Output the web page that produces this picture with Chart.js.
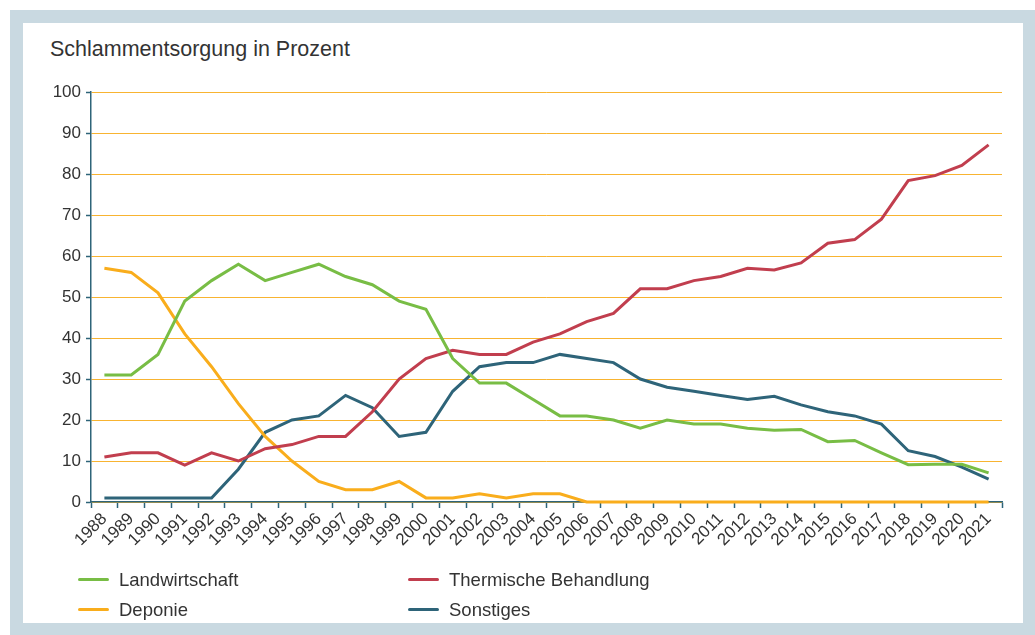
<!DOCTYPE html>
<html lang="de">
<head>
<meta charset="utf-8">
<script src="https://cdn.jsdelivr.net/npm/chart.js@4.4.1/dist/chart.umd.min.js"></script>
<style>
  body { margin: 0; width: 1035px; height: 635px; overflow: hidden; background: #fff;
         font-family: "Liberation Sans", Arial, sans-serif; color: #333; }
  #frame { position: absolute; left: 10px; top: 10px; width: 1026px; height: 626px;
           border: 13px solid #c9d9e1; box-sizing: border-box; }
  #title { position: absolute; left: 50px; top: 37px; font-size: 21.5px; color: #333; }
  #chart { position: absolute; left: 0; top: 0; }
  .leg { position: absolute; font-size: 18.5px; color: #333; line-height: 22px; }
  .leg span { display: inline-block; width: 31px; height: 3px; vertical-align: middle;
              margin-right: 10px; position: relative; top: -2px; border-radius: 2px; }
</style>
</head>
<body>
<div id="frame"></div>
<div id="title">Schlammentsorgung in Prozent</div>
<canvas id="chart" width="1035" height="635"></canvas>
<div id="legend"></div>
<script>
var years = ["1988","1989","1990","1991","1992","1993","1994","1995","1996","1997","1998","1999",
  "2000","2001","2002","2003","2004","2005","2006","2007","2008","2009","2010","2011","2012",
  "2013","2014","2015","2016","2017","2018","2019","2020","2021"];

var landwirtschaft = [31,31,36,49,54,58,54,56,58,55,53,49,47,35,29,29,25,21,21,20,18,20,19,19,18,17.5,17.7,14.7,15,12,9.1,9.2,9.2,7.1];
var thermisch = [11,12,12,9,12,10,13,14,16,16,22,30,35,37,36,36,39,41,44,46,52,52,54,55,57,56.6,58.3,63.1,64,69,78.4,79.6,82.1,87.1];
var deponie = [57,56,51,41,33,24,16,10,5,3,3,5,1,1,2,1,2,2,0,0,0,0,0,0,0,0,0,0,0,0,0,0,0,0];
var sonstiges = [1,1,1,1,1,8,17,20,21,26,23,16,17,27,33,34,34,36,35,34,30,28,27,26,25,25.8,23.7,22,21,19,12.5,11.1,8.5,5.6];

var seriesNames = ["Landwirtschaft", "Thermische Behandlung", "Deponie", "Sonstiges"];
var seriesColors = ["#78bd45", "#c13e4e", "#f9ad1c", "#2e6479"];
var seriesData = [landwirtschaft, thermisch, deponie, sonstiges];

var axisColor = "#2e6479";

var datasets = seriesNames.map(function (name, i) {
  return {
    label: name,
    data: seriesData[i],
    borderColor: seriesColors[i],
    backgroundColor: seriesColors[i],
    borderWidth: 3,
    pointRadius: 0,
    tension: 0,
    fill: false,
    clip: false
  };
});

// legend in two columns, row by row
var legend = document.getElementById("legend");
seriesNames.forEach(function (name, i) {
  var el = document.createElement("div");
  el.className = "leg";
  el.style.left = (i % 2 === 0 ? 78 : 408) + "px";
  el.style.top = (i < 2 ? 569 : 599) + "px";
  el.innerHTML = '<span style="background:' + seriesColors[i] + '"></span>' + name;
  legend.appendChild(el);
});

var ctx = document.getElementById("chart").getContext("2d");
new Chart(ctx, {
  type: "line",
  data: { labels: years, datasets: datasets },
  options: {
    responsive: false,
    animation: false,
    layout: { padding: { left: 40, right: 33, top: 92, bottom: 78 } },
    plugins: { legend: { display: false }, tooltip: { enabled: false } },
    scales: {
      x: {
        offset: true,
        grid: { drawOnChartArea: false, offset: true, tickLength: 6, tickColor: axisColor, tickWidth: 1.5 },
        border: { color: axisColor, width: 1.5 },
        ticks: {
          color: "#333",
          font: { family: "Liberation Sans", size: 17 },
          minRotation: 45, maxRotation: 45, autoSkip: false, padding: 1
        },
        afterFit: function (scale) { scale.height = 55; }
      },
      y: {
        min: 0, max: 100,
        grid: { color: "#f8b431", lineWidth: 1, tickLength: 5, tickColor: axisColor, tickWidth: 1.5 },
        border: { color: axisColor, width: 1.5 },
        ticks: {
          stepSize: 10, color: "#333", padding: 5,
          font: { family: "Liberation Sans", size: 17 }
        },
        afterFit: function (scale) { scale.width = 51; }
      }
    }
  }
});
</script>
</body>
</html>
